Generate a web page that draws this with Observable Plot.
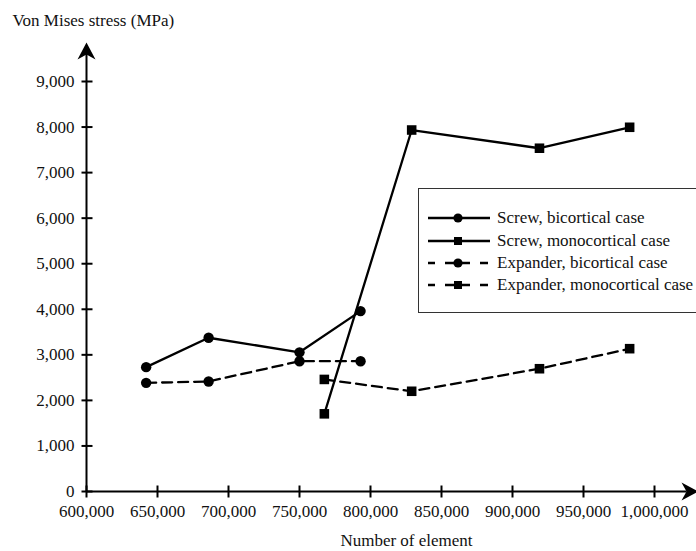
<!DOCTYPE html>
<html>
<head>
<meta charset="utf-8">
<script src="https://cdn.jsdelivr.net/npm/d3@7"></script>
<script src="https://cdn.jsdelivr.net/npm/@observablehq/plot@0.6"></script>
<style>
  body { margin: 0; background: #fff; }
  #wrap { position: relative; width: 696px; height: 551px; overflow: hidden; font-family: "Liberation Serif", "DejaVu Serif", serif; }
  #legend { position: absolute; left: 418px; top: 188px; width: 300px; height: 125px; border: 1.5px solid #333; box-sizing: border-box; background: #fff; }
  .row { position: absolute; left: 8px; height: 22px; display: flex; align-items: center; font-family: "Liberation Serif", "DejaVu Serif", serif; font-size: 17px; color: #111; white-space: nowrap; }
  .row svg { margin-right: 6px; flex: none; }
</style>
</head>
<body>
<div id="wrap"></div>
<script>
// ---- data ----
const xTicks = [600000, 650000, 700000, 750000, 800000, 850000, 900000, 950000, 1000000];
const yTicks = [0, 1000, 2000, 3000, 4000, 5000, 6000, 7000, 8000, 9000];
const elemBi = [642000, 686000, 750000, 793000];
const elemMono = [767500, 829000, 919000, 982500];
const screwBi = [2730, 3375, 3055, 3960];
const screwMono = [1705, 7935, 7535, 7995];
const expanderBi = [2385, 2415, 2860, 2860];
const expanderMono = [2460, 2200, 2695, 3135];
const seriesNames = ["Screw, bicortical case", "Screw, monocortical case", "Expander, bicortical case", "Expander, monocortical case"];
const yTitle = "Von Mises stress (MPa)";
const xTitle = "Number of element";
const xArrowTip = 1031000;
const yArrowTip = 9855;

const FONT = "Liberation Serif";
const series = [
  {name: seriesNames[0], xs: elemBi, ys: screwBi, dash: null, symbol: "circle"},
  {name: seriesNames[1], xs: elemMono, ys: screwMono, dash: null, symbol: "square"},
  {name: seriesNames[2], xs: elemBi, ys: expanderBi, dash: "10,6", symbol: "circle"},
  {name: seriesNames[3], xs: elemMono, ys: expanderMono, dash: "10,6", symbol: "square"}
];
const rows = series.flatMap(s => s.xs.map((x, i) => ({series: s.name, x, y: s.ys[i]})));

const fmt = d3.format(",");
const arrowHead = {draw(ctx) { ctx.moveTo(0, 0); ctx.lineTo(9, 17); ctx.lineTo(0, 12); ctx.lineTo(-9, 17); ctx.closePath(); }};
const hTick = {draw(ctx) { ctx.moveTo(-5, 0); ctx.lineTo(6, 0); }};
const vTick = {draw(ctx) { ctx.moveTo(0, -6); ctx.lineTo(0, 6); }};

const marks = [
  Plot.axisX({ticks: xTicks, tickFormat: fmt, tickSize: 0, tickPadding: 13, label: null, fontSize: 17, fontFamily: FONT, fill: "#111"}),
  Plot.axisY({ticks: yTicks, tickFormat: fmt, tickSize: 0, tickPadding: 12, label: null, fontSize: 17, fontFamily: FONT, fill: "#111"}),
  Plot.ruleY([0], {x1: 600000, x2: xArrowTip - 8000, stroke: "#000", strokeWidth: 2}),
  Plot.ruleX([600000], {y1: 0, y2: yArrowTip - 200, stroke: "#000", strokeWidth: 2}),
  Plot.dot(yTicks, {x: 600000, y: d => d, symbol: hTick, stroke: "#000", strokeWidth: 2, fill: "none"}),
  Plot.dot(xTicks, {x: d => d, y: 0, symbol: vTick, stroke: "#000", strokeWidth: 2, fill: "none"}),
  Plot.dot([0], {x: 600000, y: yArrowTip, symbol: arrowHead, fill: "#000", stroke: "none"}),
  Plot.dot([0], {x: xArrowTip, y: 0, symbol: arrowHead, rotate: 90, fill: "#000", stroke: "none"})
];
for (const s of series) {
  const data = rows.filter(r => r.series === s.name);
  marks.push(Plot.line(data, {x: "x", y: "y", stroke: "#000", strokeWidth: 2.3, strokeDasharray: s.dash}));
  marks.push(Plot.dot(data, {x: "x", y: "y", symbol: s.symbol, r: s.symbol === "square" ? 5.4 : 5.2, fill: "#000", stroke: "none"}));
}
marks.push(Plot.text([yTitle], {frameAnchor: "top-left", textAnchor: "start", lineAnchor: "middle", dx: -74, dy: -61, fontSize: 17, fontFamily: FONT, fill: "#111"}));
marks.push(Plot.text([xTitle], {frameAnchor: "bottom", textAnchor: "middle", lineAnchor: "middle", dx: 36, dy: 49, fontSize: 17, fontFamily: FONT, fill: "#111"}));

const chart = Plot.plot({
  width: 696,
  height: 551,
  marginLeft: 86,
  marginRight: 42,
  marginTop: 81,
  marginBottom: 60,
  x: {domain: [600000, 1000000]},
  y: {domain: [0, 9000]},
  style: {fontFamily: "'Liberation Serif', 'DejaVu Serif', serif", fontSize: "17px", background: "#fff", color: "#111"},
  marks
});
const wrap = document.getElementById("wrap");
wrap.appendChild(chart);

// legend (inside plot area, overlaid)
const legend = document.createElement("div");
legend.id = "legend";
const centers = [30, 53, 75, 97];
series.forEach((s, i) => {
  const row = document.createElement("div");
  row.className = "row";
  row.style.top = (centers[i] - 11 - 1.5) + "px";
  const ns = "http://www.w3.org/2000/svg";
  const svg = document.createElementNS(ns, "svg");
  svg.setAttribute("width", 64); svg.setAttribute("height", 22);
  const line = document.createElementNS(ns, "line");
  line.setAttribute("x1", 1); line.setAttribute("x2", 63); line.setAttribute("y1", 11); line.setAttribute("y2", 11);
  line.setAttribute("stroke", "#000"); line.setAttribute("stroke-width", 2.3);
  if (s.dash) line.setAttribute("stroke-dasharray", "7 10 25 10 8");
  svg.appendChild(line);
  let m;
  if (s.symbol === "circle") {
    m = document.createElementNS(ns, "circle");
    m.setAttribute("cx", 31); m.setAttribute("cy", 11); m.setAttribute("r", 4.6);
  } else {
    m = document.createElementNS(ns, "rect");
    m.setAttribute("x", 27); m.setAttribute("y", 7); m.setAttribute("width", 8); m.setAttribute("height", 8);
  }
  m.setAttribute("fill", "#000");
  svg.appendChild(m);
  row.appendChild(svg);
  const span = document.createElement("span");
  span.style.fontFamily = "'Liberation Serif', 'DejaVu Serif', serif";
  span.textContent = s.name;
  row.appendChild(span);
  legend.appendChild(row);
});
wrap.appendChild(legend);
</script>
</body>
</html>
